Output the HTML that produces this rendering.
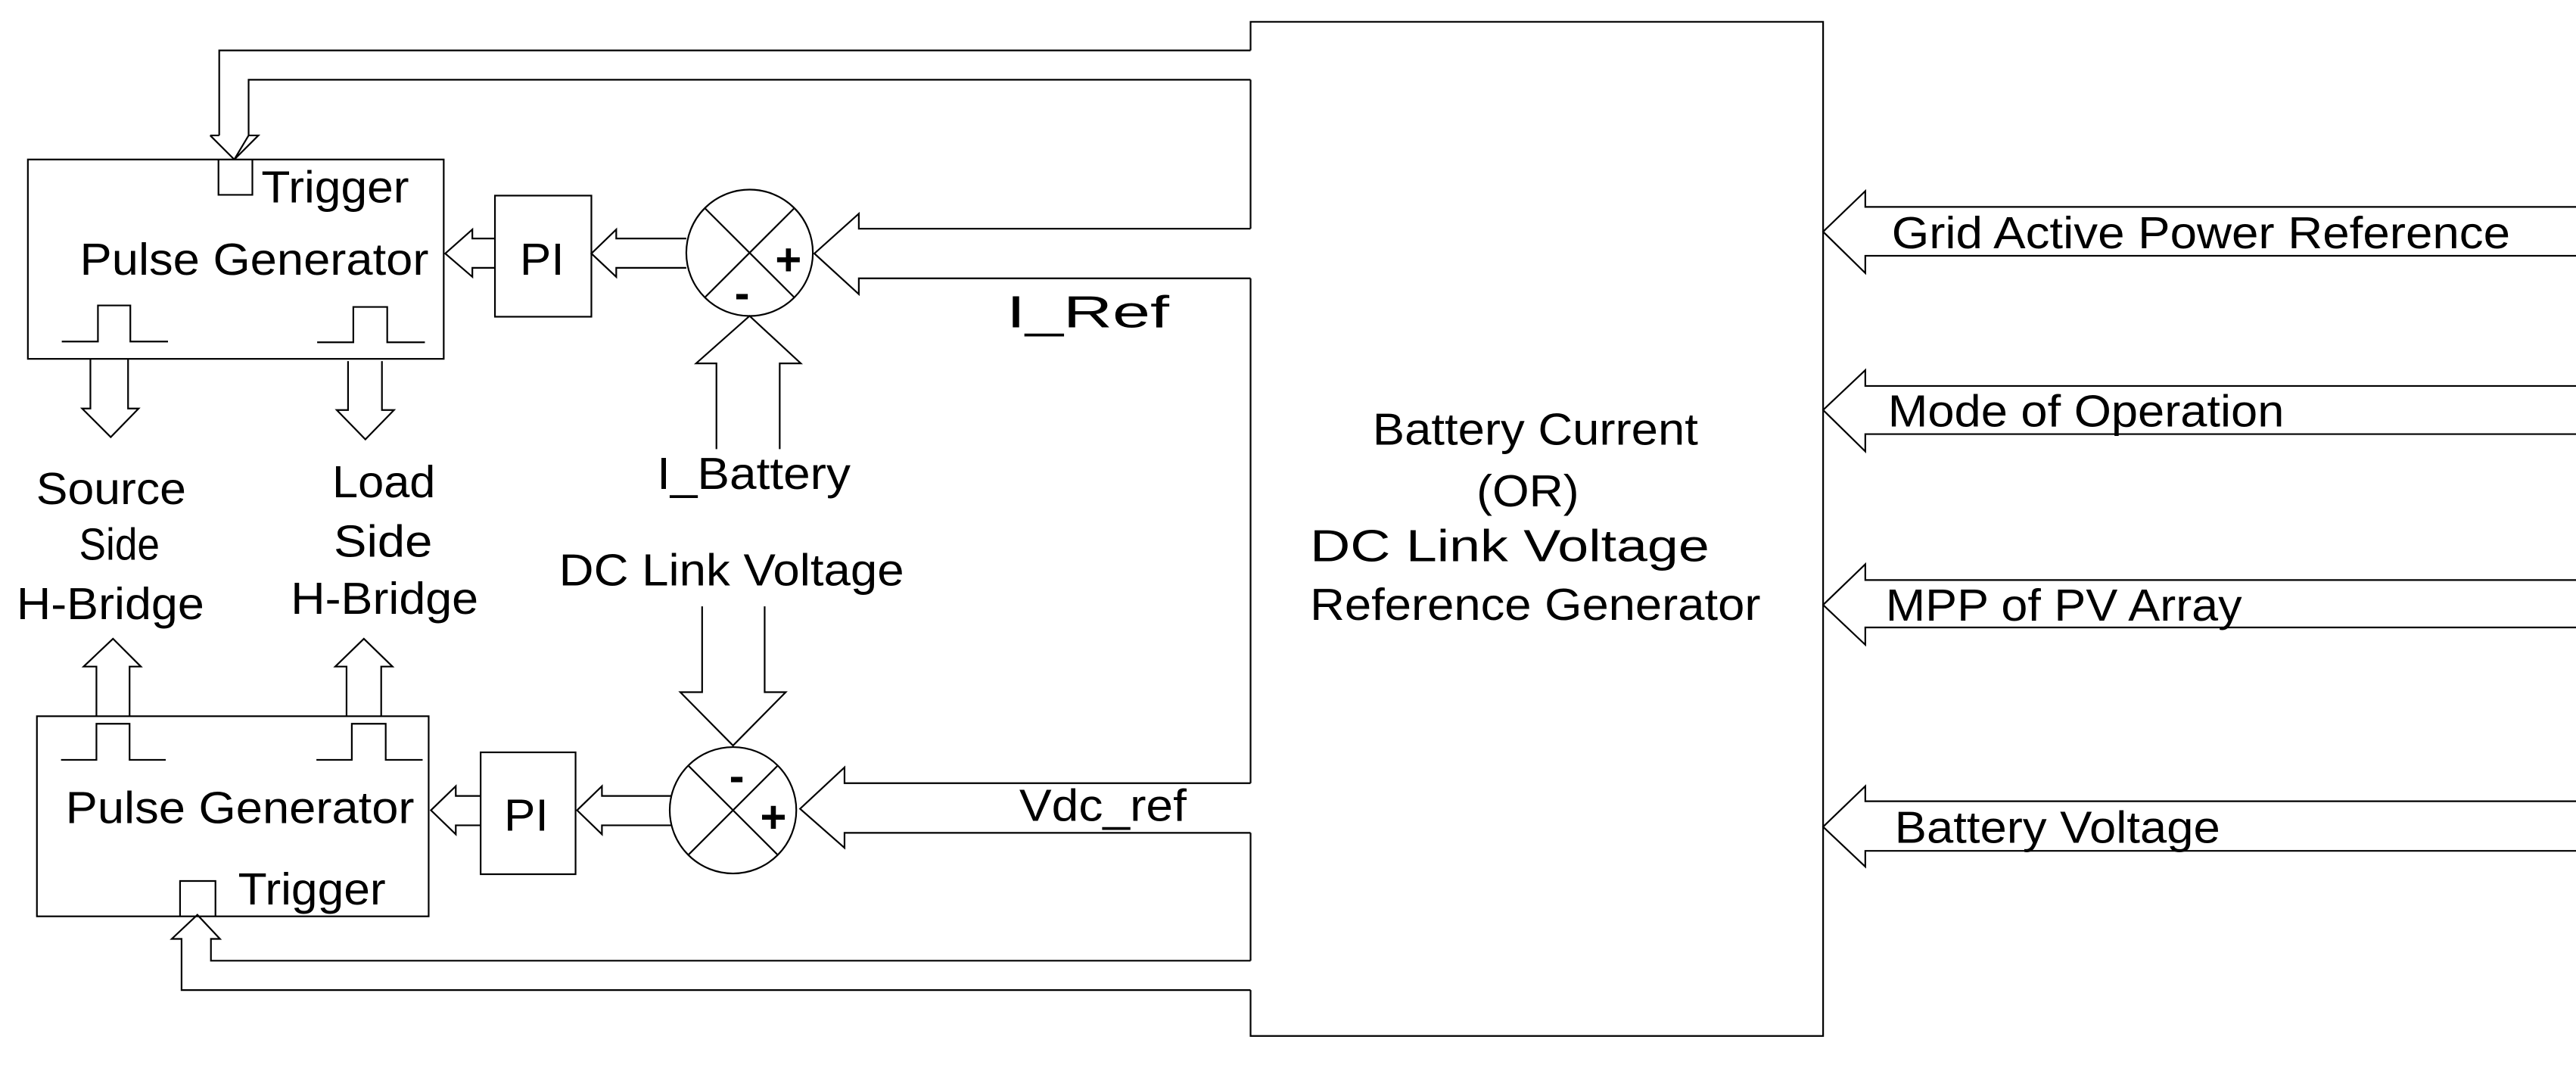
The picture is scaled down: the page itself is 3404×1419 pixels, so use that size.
<!DOCTYPE html>
<html><head><meta charset="utf-8"><style>html,body{margin:0;padding:0;background:#fff}svg{display:block}text{font-family:"Liberation Sans",Arial,sans-serif;font-size:60px;fill:#000}</style></head><body>
<svg width="3404" height="1419" viewBox="0 0 3404 1419" xmlns="http://www.w3.org/2000/svg">
<g transform="scale(0.9955,0.994)">
<g fill="none" stroke="#000" stroke-width="2.2">
<path d="M1660 67V29H2420V1377H1660V1316 M1660 106V304 M1660 370V1041 M1660 1107V1277"/>
<path d="M1660 67H291V180 M1660 106H330V180 M279 180H291 M330 180H343L311 212Z"/>
<path d="M279 180L311 212"/>
<rect x="37" y="212" width="552" height="265"/>
<path d="M290 212V259H335V212"/>
<path d="M82 454H130V406H173V454H223 M421 455H469V408H514V455H564"/>
<path d="M120 477V543H109L147 581L184 543H170V477 M462 480V545H447L485 584L523 545H507V480"/>
<rect x="657" y="260" width="128" height="161"/>
<path d="M657 317H627V305L591 337L627 368V356H657 M911 317H818V305L785 337L818 368V356H911"/>
<circle cx="995" cy="336" r="84"/>
<path d="M936 277L1054 395 M1054 277L936 395"/>
<path d="M1660 304H1140V284L1081 337L1140 391V370H1660"/>
<path d="M951 597V483H924L995 420L1063 483H1035V597"/>
<path d="M932 806V920H903L973 991L1043 920H1015V806"/>
<circle cx="973" cy="1077" r="84"/>
<path d="M914 1018L1032 1136 M1032 1018L914 1136"/>
<path d="M1660 1041H1121V1020L1062 1075L1121 1127V1107H1660"/>
<rect x="638" y="1000" width="126" height="162"/>
<path d="M638 1058H605V1045L572 1077L605 1109V1097H638 M892 1058H799V1045L766 1077L799 1109V1097H892"/>
<rect x="49" y="952" width="520" height="266"/>
<path d="M239 1218V1171H286V1218"/>
<path d="M81 1010H128V962H172V1010H220 M420 1010H467V962H512V1010H561"/>
<path d="M128 952V886H111L150 849L187 886H172V952 M460 952V886H445L483 849L521 886H506V952"/>
<path d="M1660 1277H280V1248H292L262 1216L228 1248H241V1316H1660"/>
<path d="M3430 275H2476V254L2420 308L2476 363V340H3430"/>
<path d="M3430 513H2476V492L2420 545L2476 600V577H3430"/>
<path d="M3430 771H2476V750L2420 804L2476 857V834H3430"/>
<path d="M3430 1065H2476V1045L2420 1099L2476 1152V1131H3430"/>
</g>
<g>
<text x="347" y="269" textLength="196" lengthAdjust="spacingAndGlyphs">Trigger</text>
<text x="106" y="365" textLength="463" lengthAdjust="spacingAndGlyphs">Pulse Generator</text>
<text x="690" y="365" textLength="59" lengthAdjust="spacingAndGlyphs">PI</text>
<text x="1029" y="365" font-weight="bold" font-size="56">+</text>
<text x="975" y="410" font-weight="bold" font-size="56">-</text>
<text x="1336" y="435" textLength="216" lengthAdjust="spacingAndGlyphs">I_Ref</text>
<text x="872" y="650" textLength="257" lengthAdjust="spacingAndGlyphs">I_Battery</text>
<text x="48" y="670" textLength="199" lengthAdjust="spacingAndGlyphs">Source</text>
<text x="105" y="744" textLength="107" lengthAdjust="spacingAndGlyphs">Side</text>
<text x="22" y="823" textLength="249" lengthAdjust="spacingAndGlyphs">H-Bridge</text>
<text x="441" y="661" textLength="137" lengthAdjust="spacingAndGlyphs">Load</text>
<text x="443" y="740" textLength="131" lengthAdjust="spacingAndGlyphs">Side</text>
<text x="386" y="816" textLength="249" lengthAdjust="spacingAndGlyphs">H-Bridge</text>
<text x="742" y="778" textLength="458" lengthAdjust="spacingAndGlyphs">DC Link Voltage</text>
<text x="968" y="1052" font-weight="bold" font-size="56">-</text>
<text x="1009" y="1106" font-weight="bold" font-size="56">+</text>
<text x="1353" y="1091" textLength="222" lengthAdjust="spacingAndGlyphs">Vdc_ref</text>
<text x="87" y="1094" textLength="463" lengthAdjust="spacingAndGlyphs">Pulse Generator</text>
<text x="669" y="1104" textLength="59" lengthAdjust="spacingAndGlyphs">PI</text>
<text x="316" y="1202" textLength="196" lengthAdjust="spacingAndGlyphs">Trigger</text>
<text x="1822" y="591" textLength="432" lengthAdjust="spacingAndGlyphs">Battery Current</text>
<text x="1960" y="673" textLength="136" lengthAdjust="spacingAndGlyphs">(OR)</text>
<text x="1739" y="746" textLength="530" lengthAdjust="spacingAndGlyphs">DC Link Voltage</text>
<text x="1739" y="824" textLength="598" lengthAdjust="spacingAndGlyphs">Reference Generator</text>
<text x="2511" y="330" textLength="821" lengthAdjust="spacingAndGlyphs">Grid Active Power Reference</text>
<text x="2506" y="567" textLength="526" lengthAdjust="spacingAndGlyphs">Mode of Operation</text>
<text x="2503" y="825" textLength="473" lengthAdjust="spacingAndGlyphs">MPP of PV Array</text>
<text x="2515" y="1120" textLength="432" lengthAdjust="spacingAndGlyphs">Battery Voltage</text>
</g>
</g>
</svg>
</body></html>
